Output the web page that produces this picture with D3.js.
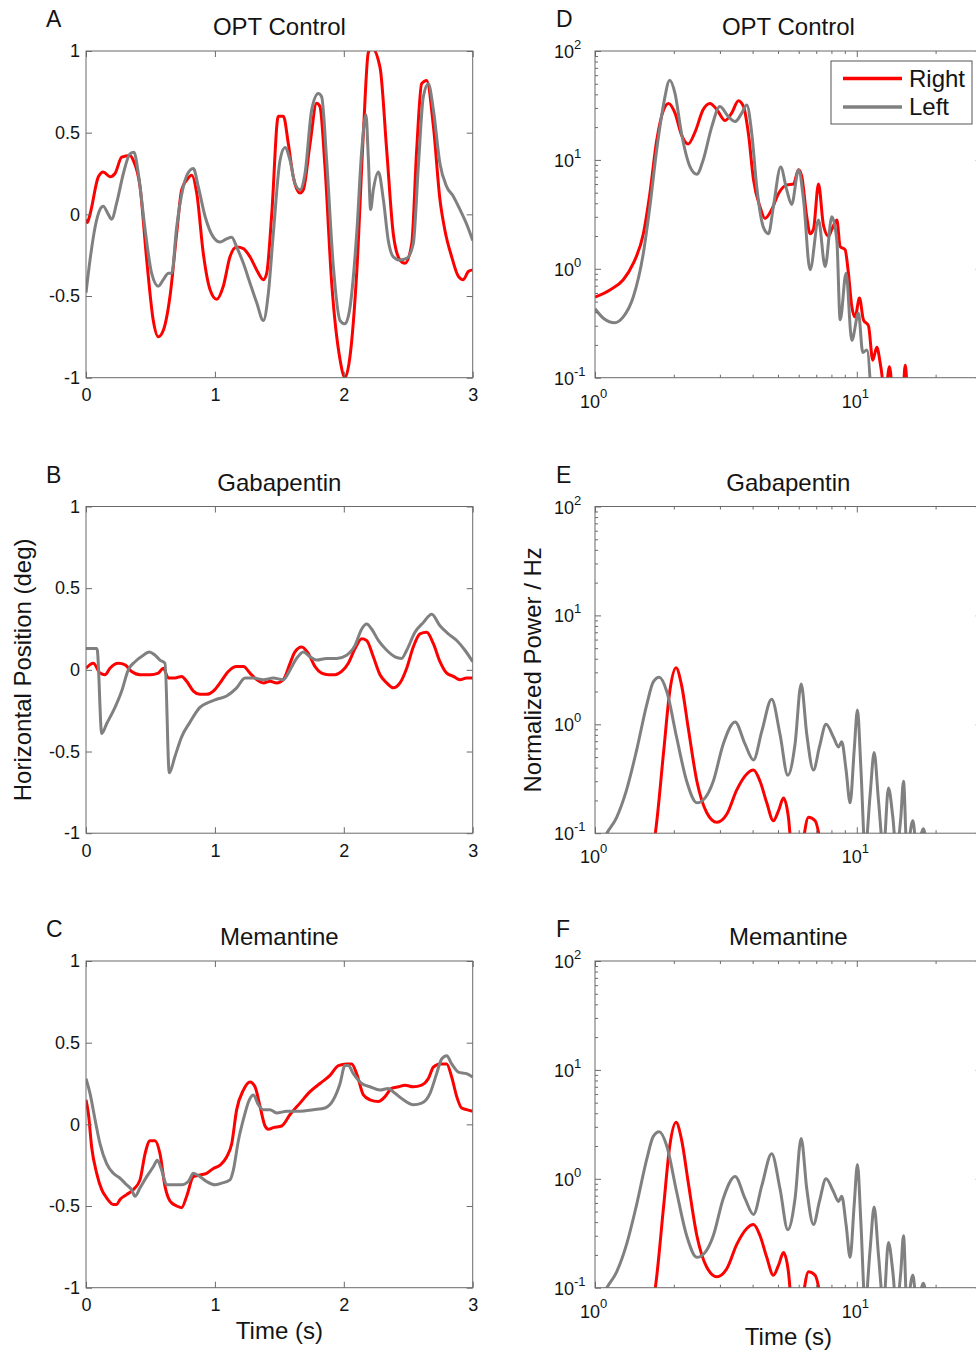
<!DOCTYPE html>
<html lang="en">
<head>
<meta charset="utf-8">
<title>Eye position and power spectra</title>
<script src="https://d3js.org/d3.v7.min.js"></script>
<style>
  body { margin: 0; background: #fff; }
  svg { display: block; }
</style>
</head>
<body>
<script>
// ---- layout ----
var W = 976, H = 1353;
var plotW = 386.7, plotH = 326.7;
var colX = [86, 595];
var rowY = [51, 506.5, 961];
var fontFam = "'Liberation Sans', Arial, Helvetica, sans-serif";
var axisColor = "#6a6a6a";
var textColor = "#141414";
var tickFont = 18, bigFont = 24;

// ---- labels / ticks ----
var lettersLeft = ["A", "B", "C"];
var lettersRight = ["D", "E", "F"];
var titles = ["OPT Control", "Gabapentin", "Memantine"];
var timeTicks = [0, 1, 2, 3];
var posTicks = [-1, -0.5, 0, 0.5, 1];
var freqTicks = [1, 10];
var powerTicks = [0.1, 1, 10, 100];
var seriesNames = ["Right", "Left"];
var seriesColors = ["#ff0000", "#808080"];

// ---- A: OPT Control, horizontal position (deg) vs time (s) ----
var optTimeR = [0,0.01,0.031,0.096,0.134,0.186,0.225,0.277,0.341,0.367,0.419,0.471,0.522,0.561,0.6,0.652,0.703,0.742,0.781,0.82,0.859,0.91,0.962,1.014,1.065,1.117,1.169,1.221,1.272,1.324,1.376,1.402,1.44,1.492,1.531,1.57,1.608,1.66,1.686,1.738,1.789,1.815,1.854,1.906,1.971,2.009,2.048,2.1,2.152,2.19,2.216,2.281,2.333,2.384,2.436,2.475,2.527,2.565,2.604,2.643,2.695,2.746,2.785,2.837,2.889,2.927,2.966,3];
var optPosR  = [-0.03,-0.05,0,0.23,0.26,0.23,0.25,0.35,0.36,0.33,0.17,-0.28,-0.65,-0.75,-0.71,-0.5,-0.12,0.15,0.21,0.24,0.13,-0.24,-0.46,-0.52,-0.44,-0.26,-0.2,-0.21,-0.26,-0.34,-0.4,-0.36,-0.01,0.6,0.6,0.43,0.23,0.13,0.15,0.43,0.68,0.66,0.29,-0.42,-0.89,-1,-0.87,-0.36,0.5,0.99,1.02,0.9,0.39,-0.12,-0.28,-0.3,-0.18,0.39,0.8,0.82,0.54,0.09,-0.1,-0.26,-0.38,-0.4,-0.35,-0.34];
var optTimeL = [0,0.031,0.07,0.109,0.134,0.173,0.199,0.238,0.29,0.341,0.372,0.406,0.458,0.509,0.561,0.6,0.639,0.665,0.703,0.755,0.807,0.833,0.871,0.923,0.988,1.04,1.091,1.13,1.169,1.221,1.272,1.324,1.376,1.415,1.453,1.505,1.544,1.583,1.621,1.66,1.699,1.751,1.802,1.828,1.867,1.919,1.971,2.009,2.048,2.1,2.139,2.172,2.19,2.208,2.229,2.268,2.307,2.345,2.384,2.436,2.488,2.539,2.578,2.617,2.656,2.695,2.746,2.798,2.85,2.901,2.953,3];
var optPosL  = [-0.48,-0.28,-0.08,0.03,0.05,0,-0.03,0.07,0.25,0.37,0.38,0.25,-0.09,-0.36,-0.44,-0.4,-0.36,-0.36,-0.08,0.17,0.27,0.28,0.17,-0.01,-0.14,-0.17,-0.15,-0.14,-0.2,-0.3,-0.42,-0.54,-0.65,-0.48,-0.12,0.33,0.41,0.33,0.19,0.15,0.25,0.64,0.74,0.72,0.33,-0.32,-0.65,-0.67,-0.57,-0.12,0.39,0.61,0.35,0.03,0.15,0.26,0.09,-0.16,-0.26,-0.28,-0.27,-0.18,0.29,0.72,0.8,0.64,0.31,0.17,0.11,0.03,-0.06,-0.16];

// ---- B: Gabapentin ----
var gabaTimeR = [0,0.057,0.109,0.147,0.186,0.251,0.303,0.354,0.419,0.497,0.561,0.6,0.639,0.69,0.742,0.781,0.833,0.884,0.936,0.988,1.04,1.104,1.169,1.221,1.272,1.324,1.376,1.427,1.479,1.531,1.583,1.621,1.673,1.725,1.777,1.828,1.88,1.932,1.983,2.035,2.087,2.139,2.177,2.229,2.281,2.333,2.384,2.436,2.488,2.539,2.591,2.643,2.695,2.746,2.798,2.85,2.901,2.953,3];
var gabaPosR  = [0.01,0.04,-0.02,-0.03,0.01,0.04,0.03,-0.01,-0.03,-0.03,-0.02,0.01,-0.05,-0.05,-0.04,-0.07,-0.13,-0.15,-0.15,-0.13,-0.08,-0.01,0.02,0.02,-0.02,-0.06,-0.08,-0.07,-0.08,-0.06,0.04,0.11,0.14,0.1,0.02,-0.02,-0.03,-0.03,-0.01,0.04,0.13,0.19,0.18,0.08,-0.03,-0.08,-0.11,-0.08,0.01,0.14,0.22,0.23,0.16,0.05,-0.02,-0.04,-0.06,-0.05,-0.05];
var gabaTimeL = [0,0.083,0.088,0.122,0.16,0.225,0.277,0.328,0.38,0.445,0.491,0.535,0.574,0.613,0.646,0.69,0.742,0.807,0.884,0.949,1.014,1.091,1.169,1.234,1.298,1.376,1.453,1.531,1.583,1.634,1.686,1.738,1.789,1.867,1.945,2.022,2.087,2.139,2.177,2.216,2.268,2.333,2.397,2.449,2.488,2.552,2.617,2.682,2.746,2.811,2.876,2.94,3];
var gabaPosL  = [0.13,0.13,0.12,-0.39,-0.33,-0.23,-0.13,0,0.05,0.09,0.11,0.09,0.06,0.04,-0.63,-0.53,-0.41,-0.32,-0.23,-0.2,-0.18,-0.16,-0.11,-0.05,-0.05,-0.06,-0.05,-0.06,0,0.07,0.11,0.08,0.06,0.07,0.07,0.09,0.15,0.25,0.28,0.25,0.18,0.12,0.08,0.07,0.12,0.23,0.29,0.34,0.27,0.22,0.18,0.12,0.05];

// ---- C: Memantine ----
var memTimeR = [0,0.018,0.044,0.083,0.122,0.16,0.212,0.238,0.264,0.315,0.367,0.419,0.458,0.497,0.535,0.574,0.613,0.652,0.703,0.742,0.781,0.833,0.884,0.936,0.988,1.04,1.091,1.13,1.169,1.221,1.272,1.311,1.35,1.389,1.415,1.453,1.518,1.583,1.66,1.738,1.815,1.893,1.958,2.022,2.061,2.1,2.152,2.203,2.268,2.32,2.371,2.423,2.475,2.539,2.604,2.656,2.695,2.746,2.798,2.837,2.876,2.914,2.953,3];
var memPosR  = [0.15,0.07,-0.14,-0.3,-0.4,-0.45,-0.49,-0.49,-0.46,-0.43,-0.4,-0.34,-0.18,-0.1,-0.1,-0.18,-0.38,-0.47,-0.5,-0.51,-0.44,-0.32,-0.31,-0.3,-0.27,-0.25,-0.2,-0.12,0.09,0.21,0.26,0.23,0.11,-0.01,-0.03,-0.02,-0.01,0.06,0.13,0.2,0.25,0.3,0.36,0.37,0.37,0.31,0.18,0.15,0.14,0.17,0.22,0.23,0.24,0.23,0.24,0.28,0.35,0.37,0.37,0.29,0.17,0.1,0.09,0.08];
var memTimeL = [0,0.031,0.07,0.109,0.16,0.212,0.264,0.315,0.354,0.38,0.419,0.471,0.522,0.553,0.587,0.626,0.678,0.742,0.794,0.833,0.884,0.936,1.001,1.052,1.117,1.143,1.182,1.221,1.267,1.298,1.337,1.376,1.427,1.479,1.557,1.66,1.764,1.854,1.919,1.971,2.009,2.035,2.074,2.139,2.203,2.281,2.345,2.397,2.462,2.539,2.604,2.669,2.72,2.759,2.798,2.837,2.889,2.953,3];
var memPosL  = [0.28,0.19,0.03,-0.12,-0.24,-0.3,-0.33,-0.37,-0.4,-0.44,-0.39,-0.32,-0.26,-0.22,-0.28,-0.37,-0.37,-0.37,-0.35,-0.3,-0.32,-0.35,-0.37,-0.36,-0.34,-0.28,-0.1,0.03,0.15,0.18,0.12,0.09,0.09,0.07,0.08,0.08,0.09,0.1,0.15,0.25,0.36,0.36,0.31,0.25,0.23,0.21,0.22,0.19,0.15,0.12,0.13,0.19,0.31,0.4,0.42,0.37,0.32,0.31,0.29];

// ---- D: OPT Control, normalized power / Hz vs frequency ----
var optFreqR = [1,1.14,1.28,1.4,1.53,1.62,1.72,1.83,1.91,2.02,2.14,2.27,2.41,2.59,2.75,2.92,3.14,3.33,3.53,3.69,3.86,4.03,4.27,4.46,4.73,5.02,5.4,5.73,5.99,6.16,6.44,6.63,6.83,7.14,7.46,7.79,8.03,8.39,8.64,9.02,9.29,9.57,9.85,10.24,10.6,11.08,11.51,11.92,12.35,12.83,13.33,13.81,14.9,15.3,15.7];
var optPowR  = [0.55,0.64,0.79,1.12,2.1,4.9,15,29,33,27,17,14,18,29,33,29,23,27,35,31,17,6.6,3.7,2.9,3.5,4.9,5.9,6,8.1,7.1,3,2.1,2.3,6,2.5,2,2.3,2.8,1.6,1.5,0.91,0.45,0.36,0.54,0.34,0.3,0.145,0.19,0.126,0.07,0.126,0.06,0.05,0.13,0.05];
var optFreqL = [1,1.08,1.19,1.28,1.4,1.53,1.62,1.72,1.83,1.93,2.02,2.14,2.31,2.45,2.59,2.79,3,3.23,3.43,3.64,3.8,3.97,4.15,4.4,4.6,4.8,5.12,5.4,5.64,5.99,6.26,6.63,7.14,7.57,8.03,8.39,8.64,9.1,9.57,10.15,10.54,10.92,11.41];
var optPowL  = [0.43,0.35,0.32,0.36,0.55,1.39,3.7,12.3,33,54,41,17.5,8.6,7.4,10,20,31,25,22.5,27,32,17.5,5.6,2.4,2.1,3.7,8.6,5.3,3.9,8.1,4.3,0.98,2.8,1.05,3,1.83,0.34,0.91,0.22,0.39,0.17,0.18,0.05];

// ---- E: Gabapentin spectra ----
var gabaFreqR = [1.6,1.7,1.83,1.93,2.04,2.14,2.27,2.45,2.67,2.92,3.19,3.48,3.8,4.03,4.27,4.53,4.8,5.02,5.25,5.48,5.64,6,6.16,6.54,6.93,7.35];
var gabaPowR  = [0.05,0.1,0.57,2,3.3,2.3,0.93,0.3,0.155,0.126,0.15,0.25,0.35,0.38,0.3,0.19,0.13,0.16,0.21,0.14,0.07,0.05,0.07,0.14,0.13,0.07];
var gabaFreqL = [1,1.11,1.21,1.32,1.44,1.58,1.67,1.76,1.88,2.05,2.24,2.45,2.63,2.83,3.09,3.43,3.74,4.03,4.34,4.73,5.09,5.45,5.81,6.13,6.44,6.83,7.2,7.63,8.15,8.51,8.76,9.1,9.43,9.77,10.06,10.36,10.76,11.25,11.65,12.1,12.65,13.21,13.73,14.14,14.73,15.08,15.53,16.37,16.96,17.98,18.51];
var gabaPowL  = [0.06,0.1,0.14,0.25,0.57,1.55,2.45,2.7,2,0.76,0.3,0.19,0.21,0.3,0.66,1.05,0.66,0.47,0.87,1.7,0.81,0.34,0.66,2.35,0.81,0.38,0.62,1,0.76,0.62,0.69,0.38,0.19,0.57,1.35,0.41,0.07,0.23,0.55,0.2,0.07,0.26,0.14,0.07,0.14,0.3,0.07,0.13,0.07,0.11,0.07];

// ---- F: Memantine spectra (read identical to E in the figure) ----
var memFreqR = gabaFreqR.slice(), memPowR = gabaPowR.slice();
var memFreqL = gabaFreqL.slice(), memPowL = gabaPowL.slice();

var timeSets = [
  [[optTimeR, optPosR], [optTimeL, optPosL]],
  [[gabaTimeR, gabaPosR], [gabaTimeL, gabaPosL]],
  [[memTimeR, memPosR], [memTimeL, memPosL]]
];
var specSets = [
  [[optFreqR, optPowR], [optFreqL, optPowL]],
  [[gabaFreqR, gabaPowR], [gabaFreqL, gabaPowL]],
  [[memFreqR, memPowR], [memFreqL, memPowL]]
];

var svg = d3.select("body").append("svg")
  .attr("width", W).attr("height", H)
  .attr("font-family", fontFam);

function styleAxis(g) {
  g.attr("font-family", fontFam).attr("font-size", tickFont);
  g.select(".domain").remove();
  g.selectAll(".tick line").attr("stroke", axisColor);
  g.selectAll(".tick text").attr("fill", textColor);
}

function addClip(g, id, x0, y0) {
  g.append("clipPath").attr("id", id).append("rect")
    .attr("x", x0).attr("y", y0).attr("width", plotW).attr("height", plotH);
}

function drawSeries(g, set, x, y, clipId) {
  var line = d3.line()
    .x(function(d) { return x(d[0]); })
    .y(function(d) { return y(d[1]); })
    .curve(d3.curveMonotoneX);
  set.forEach(function(s, i) {
    g.append("path")
      .datum(d3.zip(s[0], s[1]))
      .attr("clip-path", "url(#" + clipId + ")")
      .attr("fill", "none")
      .attr("stroke", seriesColors[i])
      .attr("stroke-width", 3)
      .attr("stroke-linejoin", "round")
      .attr("d", line);
  });
}

function drawBox(g, x0, y0) {
  g.append("rect").attr("x", x0).attr("y", y0)
    .attr("width", plotW).attr("height", plotH)
    .attr("fill", "none").attr("stroke", axisColor).attr("stroke-width", 1);
}

// ---- left column: time courses ----
function drawTimePanel(row) {
  var x0 = colX[0], y0 = rowY[row];
  var x = d3.scaleLinear().domain([0, 3]).range([x0, x0 + plotW]);
  var y = d3.scaleLinear().domain([-1, 1]).range([y0 + plotH, y0]);
  var g = svg.append("g");
  addClip(g, "clipT" + row, x0, y0);
  drawSeries(g, timeSets[row], x, y, "clipT" + row);

  g.append("g").attr("transform", "translate(0," + (y0 + plotH) + ")")
    .call(d3.axisBottom(x).tickValues(timeTicks).tickSize(-6).tickPadding(11).tickFormat(function(d) { return String(d); }))
    .call(styleAxis);
  g.append("g").attr("transform", "translate(0," + y0 + ")")
    .call(d3.axisTop(x).tickValues(timeTicks).tickSize(-6).tickFormat(""))
    .call(styleAxis);
  g.append("g").attr("transform", "translate(" + x0 + ",0)")
    .call(d3.axisLeft(y).tickValues(posTicks).tickSize(-6).tickPadding(6).tickFormat(function(d) { return String(d); }))
    .call(styleAxis);
  g.append("g").attr("transform", "translate(" + (x0 + plotW) + ",0)")
    .call(d3.axisRight(y).tickValues(posTicks).tickSize(-6).tickFormat(""))
    .call(styleAxis);
  drawBox(g, x0, y0);
}

// ---- right column: log-log spectra ----
function minorTicks(domain) {
  var out = [];
  for (var e = -2; e < 3; e++) {
    for (var k = 2; k < 10; k++) {
      var v = k * Math.pow(10, e);
      if (v > domain[0] && v < domain[1]) out.push(v);
    }
  }
  return out;
}

function drawLogPanel(row) {
  var x0 = colX[1], y0 = rowY[row];
  var x = d3.scaleLog().domain([1, 30]).range([x0, x0 + plotW]);
  var y = d3.scaleLog().domain([0.1, 100]).range([y0 + plotH, y0]);
  var g = svg.append("g");
  addClip(g, "clipS" + row, x0, y0);
  drawSeries(g, specSets[row], x, y, "clipS" + row);

  var xMinor = minorTicks(x.domain()), yMinor = minorTicks(y.domain());
  [[d3.axisBottom, y0 + plotH], [d3.axisTop, y0]].forEach(function(a) {
    g.append("g").attr("transform", "translate(0," + a[1] + ")")
      .call(a[0](x).tickValues(freqTicks).tickSize(-6).tickFormat("")).call(styleAxis);
    g.append("g").attr("transform", "translate(0," + a[1] + ")")
      .call(a[0](x).tickValues(xMinor).tickSize(-3).tickFormat("")).call(styleAxis);
  });
  [[d3.axisLeft, x0], [d3.axisRight, x0 + plotW]].forEach(function(a) {
    g.append("g").attr("transform", "translate(" + a[1] + ",0)")
      .call(a[0](y).tickValues(powerTicks).tickSize(-6).tickFormat("")).call(styleAxis);
    g.append("g").attr("transform", "translate(" + a[1] + ",0)")
      .call(a[0](y).tickValues(yMinor).tickSize(-3).tickFormat("")).call(styleAxis);
  });

  // 10^n tick labels
  var expo = function(d) { return String(Math.round(Math.log10(d))); };
  var xl = g.append("g").attr("fill", textColor);
  freqTicks.forEach(function(d) {
    xl.append("text").attr("x", x(d) + 5).attr("y", y0 + plotH + 30)
      .attr("text-anchor", "end").attr("font-size", tickFont).text("10");
    xl.append("text").attr("x", x(d) + 5).attr("y", y0 + plotH + 20)
      .attr("font-size", 13).text(expo(d));
  });
  powerTicks.forEach(function(d) {
    xl.append("text").attr("x", x0 - 21).attr("y", y(d) + 7)
      .attr("text-anchor", "end").attr("font-size", tickFont).text("10");
    xl.append("text").attr("x", x0 - 21).attr("y", y(d) - 2)
      .attr("font-size", 13).text(expo(d));
  });
  drawBox(g, x0, y0);

  if (row === 0) {
    var lg = g.append("g");
    lg.append("rect").attr("x", 831).attr("y", 61).attr("width", 141).attr("height", 63)
      .attr("fill", "#fff").attr("stroke", "#555").attr("stroke-width", 1);
    seriesNames.forEach(function(name, i) {
      var yy = 78.5 + i * 28.5;
      lg.append("line").attr("x1", 843).attr("x2", 902).attr("y1", yy).attr("y2", yy)
        .attr("stroke", seriesColors[i]).attr("stroke-width", 3.5);
      lg.append("text").attr("x", 909).attr("y", yy + 8)
        .attr("font-size", bigFont).attr("fill", textColor).text(name);
    });
  }
}

for (var r = 0; r < 3; r++) {
  drawTimePanel(r);
  drawLogPanel(r);
  // titles and panel letters
  svg.append("text").attr("x", colX[0] + plotW / 2).attr("y", rowY[r] - 16)
    .attr("text-anchor", "middle").attr("font-size", bigFont).attr("fill", textColor).text(titles[r]);
  svg.append("text").attr("x", colX[1] + plotW / 2).attr("y", rowY[r] - 16)
    .attr("text-anchor", "middle").attr("font-size", bigFont).attr("fill", textColor).text(titles[r]);
  svg.append("text").attr("x", 46).attr("y", rowY[r] - 24)
    .attr("font-size", 23).attr("fill", textColor).text(lettersLeft[r]);
  svg.append("text").attr("x", 556).attr("y", rowY[r] - 24)
    .attr("font-size", 23).attr("fill", textColor).text(lettersRight[r]);
}

// axis titles
svg.append("text")
  .attr("transform", "translate(31," + (rowY[1] + plotH / 2) + ") rotate(-90)")
  .attr("text-anchor", "middle").attr("font-size", bigFont).attr("fill", textColor)
  .text("Horizontal Position (deg)");
svg.append("text")
  .attr("transform", "translate(541," + (rowY[1] + plotH / 2) + ") rotate(-90)")
  .attr("text-anchor", "middle").attr("font-size", bigFont).attr("fill", textColor)
  .text("Normalized Power / Hz");
svg.append("text").attr("x", colX[0] + plotW / 2).attr("y", rowY[2] + plotH + 51)
  .attr("text-anchor", "middle").attr("font-size", bigFont).attr("fill", textColor).text("Time (s)");
svg.append("text").attr("x", colX[1] + plotW / 2).attr("y", rowY[2] + plotH + 57)
  .attr("text-anchor", "middle").attr("font-size", bigFont).attr("fill", textColor).text("Time (s)");
</script>
</body>
</html>
